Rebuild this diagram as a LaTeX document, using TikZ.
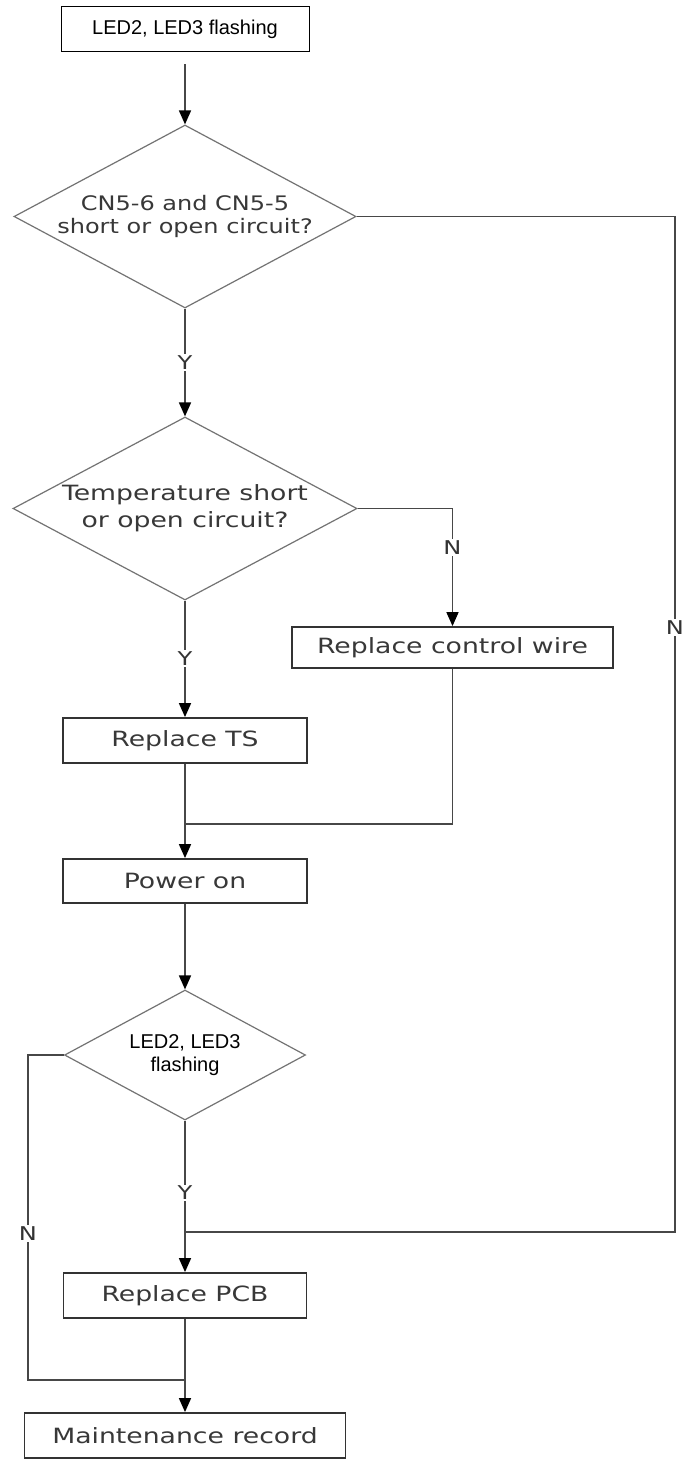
\documentclass[tikz,border=0pt]{standalone}
\usepackage{fontspec}
\usetikzlibrary{shapes.geometric,arrows.meta}
\newfontfamily\vfont[FakeStretch=1.27]{DejaVu Sans}
\newfontfamily\vfontb[FakeStretch=1.2]{DejaVu Sans}
\newfontfamily\afont{Liberation Sans}
\tikzset{
  box/.style={draw=black!80, line width=1.8pt, rectangle, inner sep=0pt,
    font=\vfont\fontsize{21}{24}\selectfont, text=black!78},
  topbox/.style={draw=black, line width=1pt, rectangle, inner sep=0pt,
    font=\afont\fontsize{20}{23}\selectfont, text=black},
  dia/.style={draw=black!55, line width=1.2pt, shape=diamond, inner sep=0pt},
  dtext/.style={align=center, inner sep=0pt, text=black!78},
  conn/.style={draw=black!72, line width=1.6pt},
  arr/.style={conn, -{Triangle[width=12pt,length=14pt,fill=black,color=black]}},
  yn/.style={fill=white, inner sep=1.5pt, font=\vfont\fontsize{19}{22}\selectfont, text=black!80},
}
\begin{document}
\begin{tikzpicture}[x=1pt,y=-1pt]
\fill[white] (0,0) rectangle (685,1461);
\useasboundingbox (0,0) rectangle (685,1461);

\node[topbox, minimum width=248pt, minimum height=45pt] (top) at (185,29.5) {LED2, LED3 flashing};

\node[dia, minimum width=342pt, minimum height=183pt,
  label={[dtext, name=d1t, font=\vfontb\fontsize{20}{23}\selectfont]center:{CN5-6 and CN5-5\\short or open circuit?}}] (d1) at (185,216.5) {};

\node[dia, minimum width=344pt, minimum height=183pt,
  label={[dtext, name=d2t, font=\vfont\fontsize{21}{27}\selectfont]center:{Temperature short\\or open circuit?}}] (d2) at (185,508.5) {};

\node[box, minimum width=321pt, minimum height=41pt] (ctrl) at (452.5,647.5) {Replace control wire};
\node[box, minimum width=244pt, minimum height=45pt] (ts) at (185,740.5) {Replace TS};
\node[box, minimum width=244pt, minimum height=44pt] (pow) at (185,881) {Power on};

\node[dia, minimum width=241pt, minimum height=130pt,
  label={[dtext, name=d3t, text=black, font=\afont\fontsize{20}{23}\selectfont]center:{LED2, LED3\\flashing}}] (d3) at (185,1055) {};

\node[box, minimum width=243pt, minimum height=45pt] (pcb) at (185,1295.5) {Replace PCB};
\node[box, minimum width=321pt, minimum height=45pt] (maint) at (185,1435.5) {Maintenance record};

\coordinate (rt) at (675,216.5);
\coordinate (rb) at (675,1232);
\coordinate (b2) at (452.5,508.5);
\coordinate (m1) at (185,824);
\coordinate (m2) at (185,1232);
\coordinate (m3) at (185,1380);
\coordinate (lt) at (28,1055);
\coordinate (lb) at (28,1380);

\draw[arr, shorten <=12pt] (top.south) -- (d1.north);
\draw[arr] (d1.south) -- node[yn]{Y} (d2.north);
\draw[conn] (d1.east) -- (rt) -- node[yn, pos=0.405]{N} (rb) -- (m2);
\draw[arr] (d2.east) -- (b2) -- node[yn, pos=0.33]{N} (ctrl.north);
\draw[arr] (d2.south) -- node[yn]{Y} (ts.north);
\draw[conn] (ts.south) -- (m1);
\draw[conn] (ctrl.south) |- (m1);
\draw[arr] (m1) -- (pow.north);
\draw[arr] (pow.south) -- (d3.north);
\draw[conn] (d3.south) -- node[yn, pos=0.65]{Y} (m2);
\draw[arr] (m2) -- (pcb.north);
\draw[conn] (d3.west) -- (lt) -- node[yn, pos=0.548]{N} (lb) -- (m3);
\draw[conn] (pcb.south) -- (m3);
\draw[arr] (m3) -- (maint.north);
\end{tikzpicture}
\end{document}
